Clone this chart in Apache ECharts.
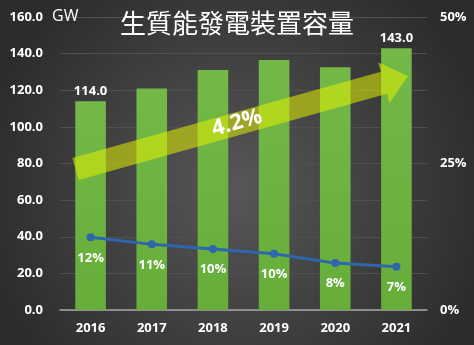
<!DOCTYPE html>
<html>
<head>
<meta charset="utf-8">
<script src="https://cdn.jsdelivr.net/npm/echarts@6/dist/echarts.min.js"></script>
<style>
html,body{margin:0;padding:0;background:#333;}
#c{width:474px;height:345px;}
</style>
</head>
<body>
<div id="c"></div>
<script>
const title = '生質能發電裝置容量';
const unitLabel = 'GW';
const years = ['2016', '2017', '2018', '2019', '2020', '2021'];
const capacity = [114.0, 121.0, 131.0, 136.5, 132.5, 143.0];
const shareValues = [12.4, 11.2, 10.4, 9.6, 8.0, 7.4];
const shareLabels = ['12%', '11%', '10%', '10%', '8%', '7%'];
const growthLabel = '4.2%';
const labelledBars = ['2016', '2021'];

const chart = echarts.init(document.getElementById('c'), null, {renderer: 'canvas'});
const font = '"Open Sans", "Liberation Sans", sans-serif';

// decorative trend arrow geometry (pixels)
const S = [75.5, 169], T = [408, 76];
const dx = T[0] - S[0], dy = T[1] - S[1];
const len = Math.hypot(dx, dy);
const d = [dx / len, dy / len];
const n = [-d[1], d[0]];
const w = 11.5, H = 21, L = 25;
const B = [T[0] - d[0] * L, T[1] - d[1] * L];
const p = (P, k) => [P[0] + n[0] * k, P[1] + n[1] * k];
const arrowPts = [p(S, -w), p(B, -w), p(B, -H), T, p(B, H), p(B, w), p(S, w)];
const angle = Math.atan2(-dy, dx);

chart.setOption({
  backgroundColor: {
    type: 'radial', x: 0.5, y: 0.55, r: 0.75,
    colorStops: [{offset: 0, color: '#575759'}, {offset: 1, color: '#2c2c2c'}]
  },
  animation: false,
  title: {
    text: title, left: 'center', top: 5,
    textStyle: {color: '#ffffff', fontSize: 26, fontWeight: 'normal', fontFamily: '"Noto Sans CJK TC", sans-serif'}
  },
  grid: {left: 60, right: 47, top: 17, bottom: 35},
  xAxis: {
    type: 'category', data: years,
    axisTick: {show: false},
    axisLine: {lineStyle: {color: '#a6a6a6', width: 1.5}},
    axisLabel: {color: '#ffffff', fontSize: 13, fontWeight: 'bold', fontFamily: font, margin: 12}
  },
  yAxis: [
    {
      type: 'value', min: 0, max: 160, interval: 20,
      axisLabel: {color: '#ffffff', fontSize: 13, fontWeight: 'bold', fontFamily: font, margin: 17,
        formatter: v => v.toFixed(1)},
      splitLine: {lineStyle: {color: '#505052', width: 1}},
      axisLine: {show: false}, axisTick: {show: false}
    },
    {
      type: 'value', min: 0, max: 50, interval: 25,
      axisLabel: {color: '#ffffff', fontSize: 13, fontWeight: 'bold', fontFamily: font, margin: 13,
        formatter: v => v + '%'},
      splitLine: {show: false}, axisLine: {show: false}, axisTick: {show: false}
    }
  ],
  series: [
    {
      type: 'bar', data: capacity.map((v, i) => ({
        value: v,
        label: {show: labelledBars.includes(years[i])}
      })),
      barWidth: '50%',
      itemStyle: {
        color: {type: 'linear', x: 0, y: 0, x2: 0, y2: 1,
          colorStops: [{offset: 0, color: '#74b948'}, {offset: 1, color: '#66ad3a'}]}
      },
      label: {position: 'top', distance: 3, color: '#ffffff', fontSize: 13, fontWeight: 'bold', fontFamily: font,
        formatter: pr => pr.value.toFixed(1)},
      z: 2
    },
    {
      type: 'line', yAxisIndex: 1, data: shareValues,
      symbol: 'circle', symbolSize: 8,
      lineStyle: {color: '#2f66ad', width: 3},
      itemStyle: {color: '#2f66ad'},
      label: {show: true, position: 'bottom', distance: 10, color: '#ffffff', fontSize: 13, fontWeight: 'bold', fontFamily: font,
        formatter: pr => shareLabels[pr.dataIndex]},
      z: 3
    }
  ],
  graphic: [
    {
      type: 'polygon', z: 20,
      shape: {points: arrowPts},
      style: {fill: 'rgba(228,240,0,0.55)'}
    },
    {
      type: 'text', z: 21,
      x: 237, y: 123, rotation: angle,
      style: {text: growthLabel, fill: '#ffffff', font: 'bold 22px ' + font, align: 'center', verticalAlign: 'middle'}
    },
    {
      type: 'text', z: 21, left: 52, top: 8,
      style: {text: unitLabel, fill: '#ffffff', font: '16px ' + font}
    }
  ]
});
</script>
</body>
</html>
